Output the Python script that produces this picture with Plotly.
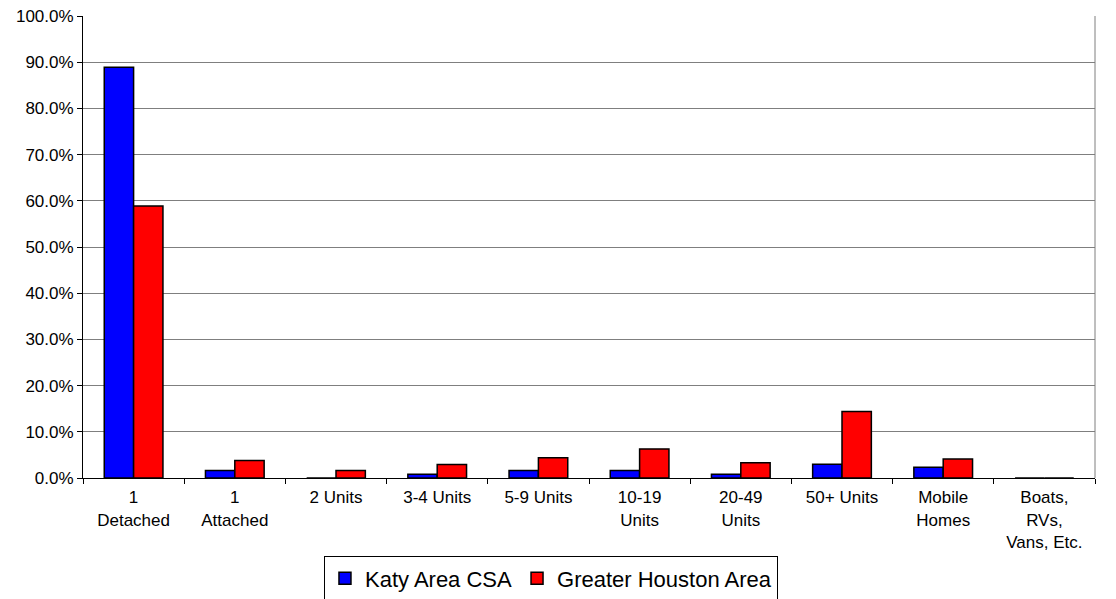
import plotly.graph_objects as go

categories = ["1<br>Detached", "1<br>Attached", "2 Units", "3-4 Units", "5-9 Units",
              "10-19<br>Units", "20-49<br>Units", "50+ Units", "Mobile<br>Homes",
              "Boats,<br>RVs,<br>Vans, Etc."]
katy = [88.9, 1.6, 0.0, 0.8, 1.6, 1.6, 0.8, 3.0, 2.3, 0.0]
houston = [58.9, 3.8, 1.6, 2.9, 4.4, 6.3, 3.3, 14.4, 4.1, 0.0]
series_names = ["Katy Area CSA", "Greater Houston Area"]
y_ticks = [0, 10, 20, 30, 40, 50, 60, 70, 80, 90, 100]
y_tick_text = [f"{v:.1f}%" for v in y_ticks]

FONT = "Liberation Sans, Arial, sans-serif"

fig = go.Figure()
fig.add_trace(go.Bar(x=categories, y=katy, name=series_names[0],
                     marker=dict(color="#0000FF", line=dict(color="#000000", width=1.5))))
fig.add_trace(go.Bar(x=categories, y=houston, name=series_names[1],
                     marker=dict(color="#FF0000", line=dict(color="#000000", width=1.5))))

fig.update_layout(
    width=1116, height=599,
    margin=dict(l=83, r=21, t=16, b=121),
    paper_bgcolor="white", plot_bgcolor="white",
    font=dict(family=FONT, size=17, color="black"),
    barmode="group", bargap=0.42, bargroupgap=0,
    showlegend=True,
    legend=dict(orientation="h", xref="container", yref="container",
                x=0.4937, xanchor="center", y=0.071, yanchor="top",
                bordercolor="black", borderwidth=1, font=dict(size=22, family=FONT),
                itemwidth=30, tracegroupgap=0, traceorder="normal"),
)
fig.update_xaxes(
    type="category", tickson="boundaries", ticks="outside", ticklen=5, tickcolor="black",
    showline=True, linecolor="black", linewidth=1, showgrid=False, automargin=False,
    tickfont=dict(size=17, family=FONT), fixedrange=True, ticklabelstandoff=4,
)
fig.update_yaxes(
    range=[0, 100], tickvals=y_ticks, ticktext=y_tick_text,
    ticks="outside", ticklen=5, tickcolor="black", automargin=False,
    showline=True, linecolor="black", linewidth=1,
    showgrid=True, gridcolor="#7f7f7f", gridwidth=1,
    tickfont=dict(size=17, family=FONT), zeroline=False,
)
# right border of plotting area
fig.add_shape(type="line", xref="paper", yref="paper", x0=1, x1=1, y0=0, y1=1,
              line=dict(color="#7f7f7f", width=1))

fig.write_html("out.html", config={"displayModeBar": False},
               post_script="document.body.style.margin='0';")
